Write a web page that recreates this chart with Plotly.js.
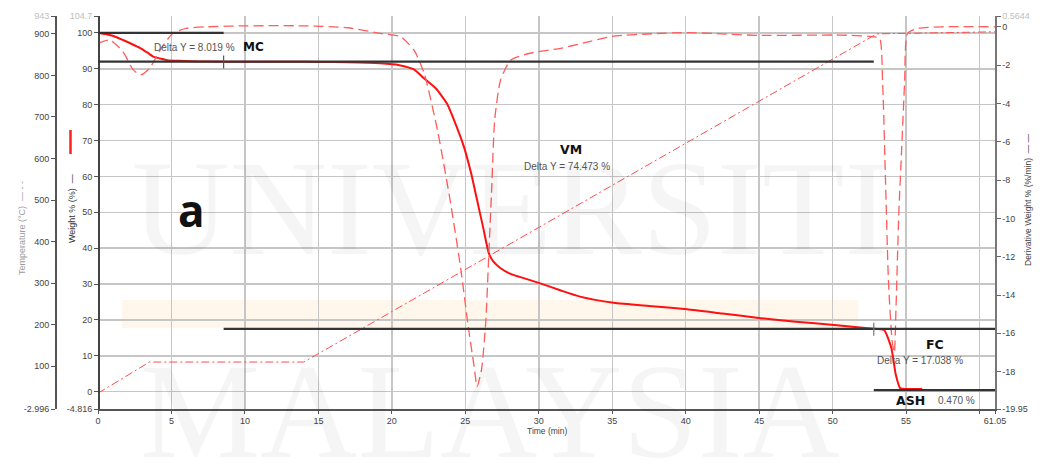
<!DOCTYPE html>
<html>
<head>
<meta charset="utf-8">
<script src="https://cdn.plot.ly/plotly-3.0.1.min.js"></script>
<style>
html,body{margin:0;padding:0;background:#fff;}
#chart{width:1049px;height:465px;}
</style>
</head>
<body>
<div id="chart"></div>
<script>
// ---- Data ----
var weightTime = [0, 0.5, 1.0, 1.7, 2.3, 2.9, 3.4, 3.8, 4.3, 4.7, 5.5, 6.3, 7.5, 10, 13, 15, 17, 19.2, 20.5, 21.5, 22.2, 23.0, 23.75, 24.3, 24.9, 25.4, 25.8, 26.2, 26.6, 26.9, 27.4, 28.0, 28.7, 30.1, 31.5, 32.8, 35.1, 37.5, 40.1, 42.5, 45.1, 47.5, 50.1, 52.6, 53.5, 54.0, 54.3, 54.6, 55.0, 56.1];
var weightPct  = [100, 99.7, 99.2, 98.0, 96.9, 95.7, 94.4, 93.3, 92.8, 92.4, 92.2, 92.1, 92.0, 91.98, 91.98, 91.9, 91.8, 91.5, 91.0, 89.8, 87.3, 84.5, 80.3, 75.0, 68.3, 60.8, 53.4, 46.0, 38.6, 36.3, 34.4, 33.0, 32.0, 30.2, 28.2, 26.5, 24.8, 23.9, 23.0, 21.8, 20.5, 19.5, 18.6, 17.6, 17.2, 12.1, 4.7, 0.95, 0.78, 0.75];

var derivTime = [0, 0.8, 1.7, 2.4, 2.9, 3.5, 4.3, 5.1, 6.0, 7.4, 10, 14, 17, 19.2, 20.6, 21.5, 22.2, 23.1, 24.0, 24.7, 25.2, 25.6, 25.8, 26.1, 26.4, 26.6, 26.8, 27.0, 27.4, 28.1, 29.4, 31.5, 33, 35, 38, 40, 42, 45, 50.5, 52.8, 53.2, 53.4, 53.6, 53.8, 54.05, 54.2, 54.3, 54.5, 54.7, 54.9, 55.1, 55.8, 57.4, 61.05];
var derivVal  = [-0.86, -0.69, -1.30, -2.25, -2.51, -2.17, -1.12, -0.34, -0.08, 0.0, 0.05, 0.05, -0.05, -0.34, -0.52, -1.21, -2.43, -5.38, -9.21, -12.69, -15.65, -17.74, -18.78, -17.91, -15.3, -11.82, -8.35, -4.86, -2.78, -1.73, -1.38, -1.12, -0.85, -0.5, -0.35, -0.3, -0.35, -0.45, -0.43, -0.52, -0.6, -2.86, -8.08, -13.3, -16.4, -17.0, -15.0, -9.8, -6.34, -2.86, -0.34, -0.08, 0.0, 0.0];

var tempTime = [0, 3.5, 14, 53, 61.05];
var tempVal  = [35, 110, 110, 900, 905];

var xTicks = [0, 5, 10, 15, 20, 25, 30, 35, 40, 45, 50, 55, 60, 61.05];
var xTickText = ['0', '5', '10', '15', '20', '25', '30', '35', '40', '45', '50', '55', '', '61.05'];
var wTicks = [-4.816, 0, 10, 20, 30, 40, 50, 60, 70, 80, 90, 100, 104.7];
var wTickText = ['-4.816', '0', '10', '20', '30', '40', '50', '60', '70', '80', '90', '100', '104.7'];
var tTicks = [-2.996, 100, 200, 300, 400, 500, 600, 700, 800, 900, 943];
var tTickText = ['-2.996', '100', '200', '300', '400', '500', '600', '700', '800', '900', '943'];
var dTicks = [-19.95, -18, -16, -14, -12, -10, -8, -6, -4, -2, 0, 0.5644];
var dTickText = ['-19.95', '-18', '-16', '-14', '-12', '-10', '-8', '-6', '-4', '-2', '0', '0.5644'];

// Step levels (Delta Y analysis)
var mcDelta = 8.019, vmDelta = 74.473, fcDelta = 17.038, ashVal = 0.470;
var lvl0 = 100;
var lvl1 = lvl0 - mcDelta;        // 91.981
var lvl2 = lvl1 - vmDelta;        // 17.508
var lvl3 = lvl2 - fcDelta;        // 0.470
var tMark1 = 8.55, tMark2 = 52.8;

// ---- geometry helpers ----
var L = 55, R = 54, T = 16, B = 56, W = 1049, H = 465;
var pw = W - L - R, ph = H - T - B;
function px2paperX(px){ return (px - L) / pw; }
function px2paperY(py){ return (H - B - py) / ph; }
var xDomStart = px2paperX(98);

function lightTop(arr){
  return arr.map(function(s, i){
    return i === arr.length - 1 ? '<span style="color:#c0c0c0">' + s + '</span>' : s;
  });
}

var tickFont = {family: 'Liberation Sans, Arial, sans-serif', size: 9, color: '#444'};

var traces = [
  {x: tempTime, y: tempVal, yaxis: 'y2', type: 'scatter', mode: 'lines',
   line: {color: '#ff4d4d', width: 1, dash: '8px,3px,2px,3px'}, hoverinfo: 'skip'},
  {x: derivTime, y: derivVal, yaxis: 'y3', type: 'scatter', mode: 'lines',
   line: {color: '#ff5c5c', width: 1.3, dash: '10px,5px', shape: 'spline', smoothing: 0.6}, hoverinfo: 'skip'},
  {x: weightTime, y: weightPct, yaxis: 'y', type: 'scatter', mode: 'lines',
   line: {color: '#ff1010', width: 2, shape: 'spline', smoothing: 0.5}, hoverinfo: 'skip'}
];

var blk = {color: '#333', width: 2.2};
var shapes = [
  {type: 'rect', xref: 'paper', yref: 'paper', x0: px2paperX(122), x1: px2paperX(858), y0: px2paperY(328), y1: px2paperY(300),
   fillcolor: 'rgba(255,210,150,0.18)', line: {width: 0}, layer: 'below'},
  {type: 'line', xref: 'x', yref: 'y', x0: 0, x1: tMark1, y0: lvl0, y1: lvl0, line: blk, layer: 'above'},
  {type: 'line', xref: 'x', yref: 'y', x0: 0, x1: tMark2, y0: lvl1, y1: lvl1, line: blk, layer: 'above'},
  {type: 'line', xref: 'x', yref: 'y', x0: tMark1, x1: 61.05, y0: lvl2, y1: lvl2, line: blk, layer: 'above'},
  {type: 'line', xref: 'x', yref: 'y', x0: tMark2, x1: 61.05, y0: lvl3, y1: lvl3, line: blk, layer: 'above'},
  {type: 'line', xref: 'x', yref: 'y', x0: tMark1, x1: tMark1, y0: lvl1 - 1.9, y1: lvl1 + 1.7, line: {color: '#555', width: 1.2}, layer: 'above'},
  {type: 'line', xref: 'x', yref: 'y', x0: tMark2, x1: tMark2, y0: lvl2 - 1.9, y1: lvl2 + 1.7, line: {color: '#777', width: 1.2}, layer: 'above'},
  {type: 'line', xref: 'paper', yref: 'paper', x0: px2paperX(70.5), x1: px2paperX(70.5), y0: px2paperY(154), y1: px2paperY(130),
   line: {color: '#ff2020', width: 2.5}}
];

var grayTxt = {family: 'Liberation Sans, Arial, sans-serif', size: 10, color: '#555'};
var boldTxt = {family: 'DejaVu Sans, sans-serif', size: 12.5, color: '#111'};

function A(o){ o.showarrow = false; o.xanchor = o.xanchor || 'center'; o.yanchor = o.yanchor || 'middle'; return o; }

var annotations = [
  A({xref: 'paper', yref: 'paper', x: px2paperX(510), y: px2paperY(208), text: 'UNIVERSITI',
   font: {family: 'Liberation Serif, serif', size: 135, color: 'rgba(0,0,0,0.04)'}}),
  A({xref: 'paper', yref: 'paper', x: px2paperX(490), y: px2paperY(412), text: 'MALAYSIA',
   font: {family: 'Liberation Serif, serif', size: 135, color: 'rgba(0,0,0,0.04)'}}),
  A({xref: 'x', yref: 'y', x: 6.54, y: 96.0, text: 'Delta Y = 8.019 %', font: grayTxt}),
  A({xref: 'x', yref: 'y', x: 10.56, y: 96.0, text: '<b>MC</b>', font: {family: 'DejaVu Sans, sans-serif', size: 12, color: '#111'}}),
  A({xref: 'x', yref: 'y', x: 32.2, y: 67.6, text: '<b>VM</b>', font: boldTxt}),
  A({xref: 'x', yref: 'y', x: 31.95, y: 62.9, text: 'Delta Y = 74.473 %', font: grayTxt}),
  A({xref: 'x', yref: 'y', x: 57.0, y: 13.2, text: '<b>FC</b>', font: boldTxt}),
  A({xref: 'x', yref: 'y', x: 55.96, y: 8.7, text: 'Delta Y = 17.038 %', font: grayTxt}),
  A({xref: 'x', yref: 'y', x: 55.28, y: -2.31, text: '<b>ASH</b>', font: boldTxt}),
  A({xref: 'x', yref: 'y', x: 58.45, y: -2.31, text: '0.470 %', font: grayTxt}),
  A({xref: 'paper', yref: 'paper', x: px2paperX(191), y: px2paperY(210), text: '<b>a</b>',
   font: {family: 'Open Sans, sans-serif', size: 44, color: '#111'}}),
  A({xref: 'paper', yref: 'paper', x: px2paperX(22), y: px2paperY(228), text: 'Temperature (°C)  — - -', textangle: -90,
   font: {family: 'Liberation Sans, Arial, sans-serif', size: 9, color: '#9a9a9a'}}),
  A({xref: 'paper', yref: 'paper', x: px2paperX(72), y: px2paperY(209), text: 'Weight % (%)  —', textangle: -90,
   font: {family: 'Liberation Sans, Arial, sans-serif', size: 9, color: '#333'}}),
  A({xref: 'paper', yref: 'paper', x: px2paperX(1028), y: px2paperY(200), text: 'Derivative Weight % (%/min)  — —', textangle: -90,
   font: {family: 'Liberation Sans, Arial, sans-serif', size: 8.5, color: '#444'}}),
  A({xref: 'paper', yref: 'paper', x: px2paperX(547), y: px2paperY(431), text: 'Time (min)',
   font: {family: 'Liberation Sans, Arial, sans-serif', size: 8.5, color: '#444'}})
];

var layout = {
  width: W, height: H,
  margin: {l: L, r: R, t: T, b: B, pad: 0},
  paper_bgcolor: '#ffffff', plot_bgcolor: 'rgba(0,0,0,0)',
  showlegend: false,
  xaxis: {
    domain: [xDomStart, 1], range: [0, 61.05], anchor: 'y',
    tickmode: 'array', tickvals: xTicks, ticktext: xTickText,
    showgrid: true, gridcolor: '#c6c6c6', gridwidth: 1.5,
    showline: true, linecolor: '#555', linewidth: 1.5,
    ticks: 'outside', ticklen: 3, tickcolor: '#555', tickfont: tickFont,
    zeroline: false, fixedrange: true
  },
  yaxis: {
    anchor: 'free', position: xDomStart, range: [-4.816, 104.7],
    tickmode: 'array', tickvals: wTicks, ticktext: lightTop(wTickText),
    showgrid: true, gridcolor: '#c6c6c6', gridwidth: 1.5,
    showline: true, linecolor: '#444', linewidth: 1.5,
    ticks: 'outside', ticklen: 4, tickcolor: '#555', tickfont: tickFont,
    zeroline: false, fixedrange: true
  },
  yaxis2: {
    overlaying: 'y', anchor: 'free', position: 0, side: 'left', range: [-2.996, 943],
    tickmode: 'array', tickvals: tTicks, ticktext: lightTop(tTickText),
    showgrid: false, showline: true, linecolor: '#555', linewidth: 1.5,
    ticks: 'outside', ticklen: 4, tickcolor: '#555', tickfont: tickFont,
    zeroline: false, fixedrange: true
  },
  yaxis3: {
    overlaying: 'y', anchor: 'x', side: 'right', range: [-19.95, 0.5644],
    tickmode: 'array', tickvals: dTicks, ticktext: lightTop(dTickText),
    showgrid: false, showline: true, linecolor: '#777', linewidth: 1.5,
    ticks: 'outside', ticklen: 4, tickcolor: '#666', tickfont: tickFont,
    zeroline: false, fixedrange: true
  },
  shapes: shapes,
  annotations: annotations
};

Plotly.newPlot('chart', traces, layout, {staticPlot: true, displayModeBar: false});
</script>
</body>
</html>
